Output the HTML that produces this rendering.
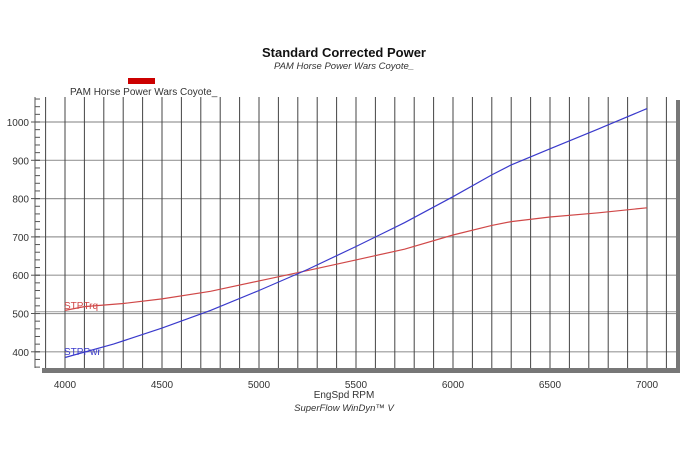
<!DOCTYPE html>
<html><head><meta charset="utf-8"><style>
html,body{margin:0;padding:0;background:#fff;}
svg{display:block;font-family:"Liberation Sans",Arial,sans-serif;}
</style></head><body>
<svg id="s" width="688" height="459" viewBox="0 0 688 459" xmlns="http://www.w3.org/2000/svg">
<rect width="688" height="459" fill="#fff"/>
<text x="344" y="57" text-anchor="middle" font-size="13" font-weight="bold" fill="#111">Standard Corrected Power</text>
<text x="344" y="69" text-anchor="middle" font-size="9.5" font-style="italic" fill="#333">PAM Horse Power Wars Coyote_</text>
<rect x="128" y="78" width="27" height="6" fill="#cc0000"/>
<text x="70" y="95" font-size="10" fill="#333">PAM Horse Power Wars Coyote_</text>
<rect x="42" y="368" width="638" height="5" fill="#777"/>
<rect x="676" y="100" width="4" height="273" fill="#777"/>
<g id="grid"></g>
<polyline fill="none" stroke="#d04848" stroke-width="1.2" id="tq"/>
<polyline fill="none" stroke="#3a3acc" stroke-width="1.2" id="pw"/>
<text x="64" y="309" font-size="10" fill="#d04848">STPTrq</text>
<text x="64" y="355" font-size="10" fill="#3a3acc">STPPwr</text>
<g font-size="10" fill="#333" text-anchor="middle" id="xl"></g>
<text x="344" y="398" text-anchor="middle" font-size="10" fill="#333">EngSpd RPM</text>
<text x="344" y="411" text-anchor="middle" font-size="9.5" font-style="italic" fill="#333">SuperFlow WinDyn™ V</text>
</svg>
<script>
var ns="http://www.w3.org/2000/svg";
function X(r){return 65+(r-4000)*0.194;}
function Y(v){return 122+(1000-v)*0.383;}
var g=document.getElementById('grid');
function L(x1,y1,x2,y2,c,w){var l=document.createElementNS(ns,'line');l.setAttribute('x1',x1);l.setAttribute('y1',y1);l.setAttribute('x2',x2);l.setAttribute('y2',y2);l.setAttribute('stroke',c);l.setAttribute('stroke-width',w);g.appendChild(l);}
function T(x,y,s,a,par){var t=document.createElementNS(ns,'text');t.setAttribute('x',x);t.setAttribute('y',y);t.setAttribute('font-size',10);t.setAttribute('fill','#333');t.setAttribute('text-anchor',a);t.textContent=s;(par||g).appendChild(t);}
for(var v=400;v<=1000;v+=100){L(35,Y(v),676,Y(v),'#999',1.2);T(29,Y(v)+4,v,'end');}
L(35,Y(505),676,Y(505),'#aaa',1);
for(var r=3900;r<=7100;r+=100){L(X(r),97,X(r),368,'#444',1);}
L(35,97,35,368,'#555',1);
for(var v=360;v<=1060;v+=20){L(35,Y(v),40,Y(v),'#555',1);}
for(var v=400;v<=1000;v+=100){L(31,Y(v),40,Y(v),'#555',1);}
var xl=document.getElementById('xl');
for(var r=4000;r<=7000;r+=500){T(X(r),388,r,'middle',xl);}
var pw=[[4000,385],[4250,420],[4500,462],[4750,508],[5000,560],[5250,615],[5500,675],[5750,737],[6000,805],[6200,862],[6300,888],[6500,930],[6750,982],[7000,1035]];
var tq=[[4000,508],[4100,518],[4300,526],[4500,538],[4750,558],[5000,585],[5250,612],[5500,640],[5750,668],[6000,705],[6200,730],[6300,740],[6500,752],[6750,763],[7000,776]];
function P(a){return a.map(function(p){return X(p[0]).toFixed(1)+','+Y(p[1]).toFixed(1);}).join(' ');}
document.getElementById('pw').setAttribute('points',P(pw));
document.getElementById('tq').setAttribute('points',P(tq));
</script>
</body></html>
